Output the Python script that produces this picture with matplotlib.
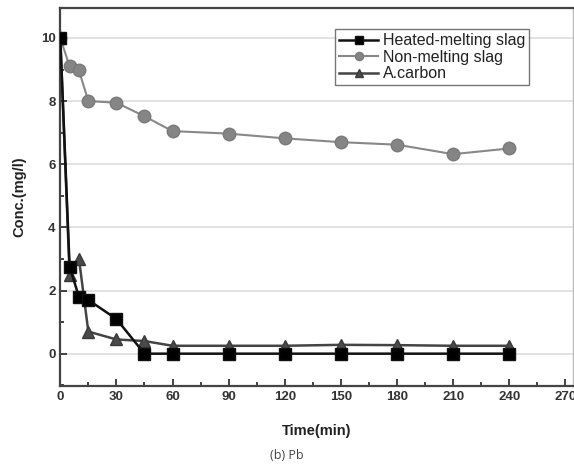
import numpy as np
import matplotlib
matplotlib.use("Agg")
import matplotlib.pyplot as plt
from matplotlib.ticker import MultipleLocator

plt.rcParams['font.family'] = ['Liberation Sans', 'DejaVu Sans']

# Data
t_heated = [0, 5, 10, 15, 30, 45, 60, 90, 120, 150, 180, 210, 240]
c_heated = [10.0, 2.75, 1.8, 1.7, 1.1, 0.0, 0.0, 0.0, 0.0, 0.0, 0.0, 0.0, 0.0]

t_non = [0, 5, 10, 15, 30, 45, 60, 90, 120, 150, 180, 210, 240]
c_non = [10.0, 9.1, 8.97, 8.0, 7.95, 7.52, 7.05, 6.97, 6.82, 6.7, 6.62, 6.32, 6.5]

t_carbon = [0, 5, 10, 15, 30, 45, 60, 90, 120, 150, 180, 210, 240]
c_carbon = [10.0, 2.5, 3.0, 0.7, 0.45, 0.4, 0.25, 0.25, 0.25, 0.28, 0.27, 0.25, 0.25]

x_ticks = [0, 30, 60, 90, 120, 150, 180, 210, 240, 270]
y_ticks = [0, 2, 4, 6, 8, 10]

fig = plt.figure(figsize=(5.74, 4.70), dpi=100)
ax = fig.add_axes([0.105, 0.179, 0.893, 0.804])

ax.plot(t_heated, c_heated, color="#111111", lw=1.8, marker="s", ms=8,
        mfc="black", mec="#111111", label="Heated-melting slag", zorder=4)
ax.plot(t_non, c_non, color="#888888", lw=1.5, marker="o", ms=9,
        mfc="#858585", mec="#7a7a7a", label="Non-melting slag", zorder=3)
ax.plot(t_carbon, c_carbon, color="#444444", lw=1.8, marker="^", ms=9,
        mfc="#4a4a4a", mec="#3a3a3a", label="A.carbon", zorder=3)

ax.set_xlim(0, 274)
ax.set_ylim(-1.02, 10.95)
ax.set_xticks(x_ticks)
ax.set_yticks(y_ticks)
ax.xaxis.set_minor_locator(MultipleLocator(15))
ax.yaxis.set_minor_locator(MultipleLocator(1))
ax.tick_params(which="both", direction="in", width=1.3, colors="#333333",
               labelsize=9.5)
ax.tick_params(which="major", length=5)
ax.tick_params(which="minor", length=3)
for lab in ax.get_xticklabels() + ax.get_yticklabels():
    lab.set_fontweight("bold")
    lab.set_color("#333333")

ax.grid(axis="y", which="major", color="#dddddd", lw=1.2)
ax.set_axisbelow(True)

for side in ["left", "bottom", "top"]:
    ax.spines[side].set_linewidth(1.6)
    ax.spines[side].set_color("#444444")
ax.spines["right"].set_color("#bbbbbb")
ax.spines["right"].set_linewidth(1.0)

ax.set_ylabel("Conc.(mg/l)", fontsize=10.5, fontweight="bold", color="#222222", labelpad=10)
ax.set_xlabel("Time(min)", fontsize=10.5, fontweight="bold", color="#222222", labelpad=15)

leg = ax.legend(loc="upper right", bbox_to_anchor=(0.93, 0.965), fontsize=11.5,
                frameon=True, fancybox=False, borderpad=0.25, labelspacing=0.1,
                handlelength=2.4, handletextpad=0.3, markerscale=0.65)
leg.get_frame().set_edgecolor("#555555")
leg.get_frame().set_linewidth(1.0)
for txt in leg.get_texts():
    txt.set_color("#222222")

fig.text(0.5, 0.03, "(b) Pb", ha="center", va="center", fontsize=9,
         color="#444444", family=["Open Sans", "DejaVu Sans"])

fig.savefig("out.png", dpi=100)
